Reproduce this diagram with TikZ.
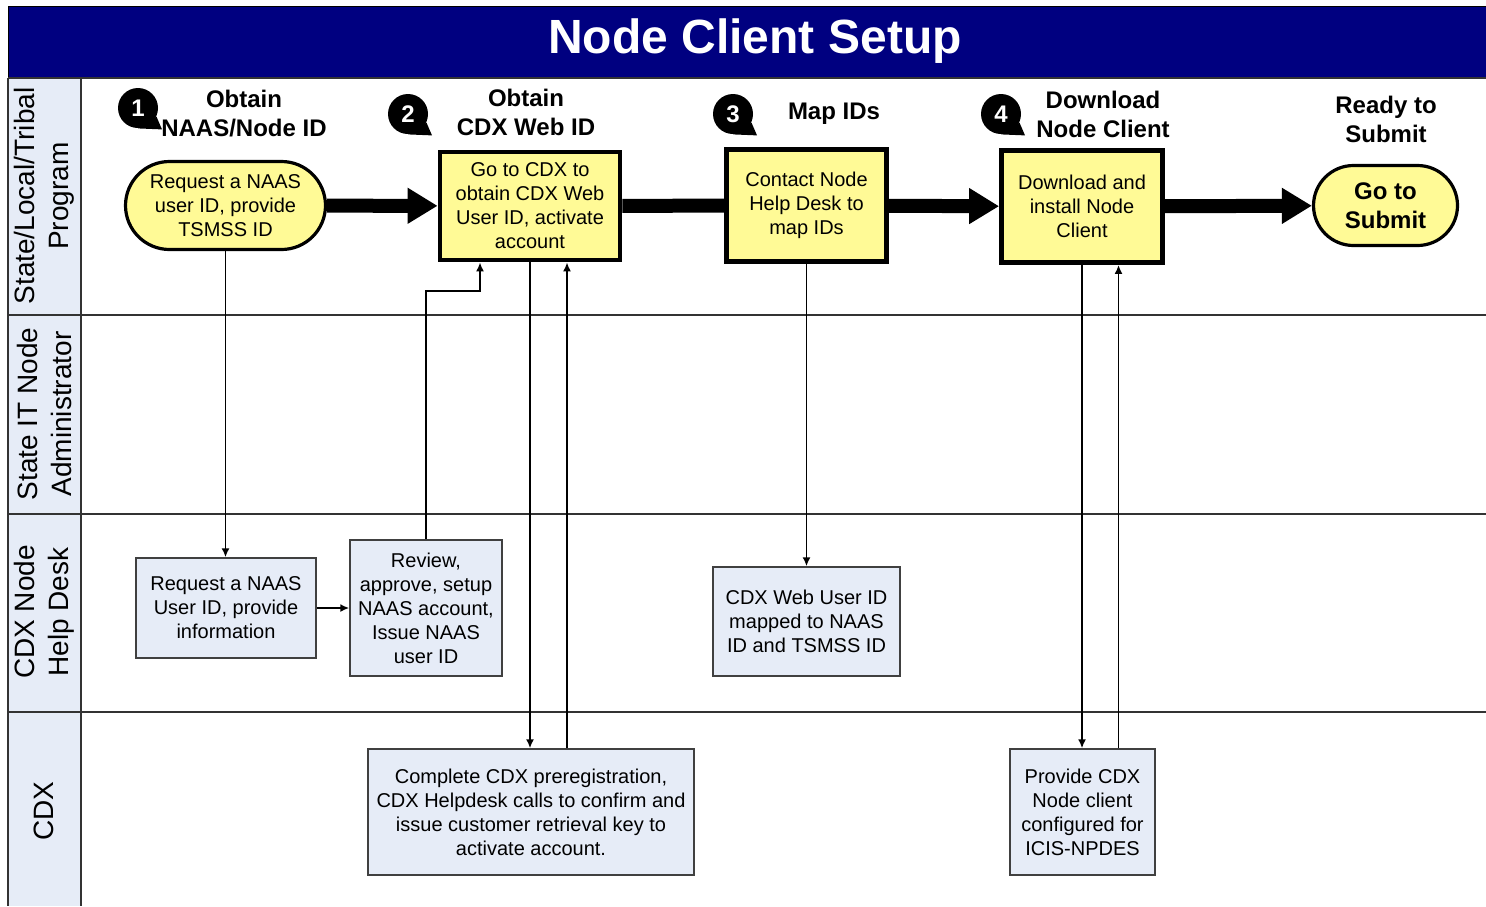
\documentclass[tikz,border=0pt]{standalone}
\usepackage{fontspec}
\setmainfont{Liberation Sans}
\usepackage{tikz}
\usetikzlibrary{
  arrows.meta,
  positioning,
  calc,
  }
\definecolor{navy}{HTML}{000080}
\definecolor{paleyellow}{HTML}{FFFA96}
\definecolor{paleblue}{HTML}{E6ECF7}

\begin{document}
\begin{tikzpicture}[x=0.5pt,y=-0.5pt,
                    every node/.style={align=center, inner sep=0pt},
                    stepbox/.style={draw, line width=2.4pt, fill=paleyellow, font=\fontsize{10}{12}\selectfont},
                    term/.style={draw, line width=1.6pt, fill=paleyellow},
                    task/.style={draw=black!75, line width=0.7pt, fill=paleblue, font=\fontsize{10}{12}\selectfont},
                    head/.style={font=\bfseries\fontsize{12}{14.5}\selectfont},
                    num/.style={circle, fill=black, text=white, minimum size=20pt, font=\bfseries\fontsize{12}{12}\selectfont},
                    lane/.style={rotate=90, font=\fontsize{14}{17}\selectfont},
                    rule/.style={draw=black!80, line width=0.75pt},
                    flow/.style={line width=7pt, -{Triangle[length=15pt,width=17pt]}},
                    link/.style={line width=0.9pt, -{Latex[length=4.5pt,width=4pt]}}]
                \useasboundingbox (0,0) rectangle (1486,906);
                \draw[fill=navy] (8,6) rectangle (1486,78);
                \node[text=white, font=\bfseries\fontsize{24}{28}\selectfont] (title) at (755,41) {Node Client Setup};
                \fill[paleblue] (8,78) rectangle (81,906);
                \draw[rule] (8,78) -- (8,906) (81,78) -- (81,906);
                \foreach \y in {78,315,514,712}
                    \draw[rule] (8,\y) -- (1486,\y);
                \node[lane] (lprog) at (44,196) {State/Local/Tribal\\Program};
                \node[lane] (ladmin) at (44,414) {State IT Node\\Administrator};
                \node[lane] (ldesk) at (44,612) {CDX Node\\Help Desk};
                \node[lane] (lcdx) at (44,811) {CDX};

                \node[num] (k1) at (138,108) {1};
                \node[num] (k2) at (408,114) {2};
                \node[num] (k3) at (733,114) {3};
                \node[num] (k4) at (1001,114) {4};
                \foreach \k in {k1,k2,k3,k4}
                    \fill (\k.-90) -- ++(24,1) -- (\k.-25) -- cycle;
                \node[head] (h1) at (244,114) {Obtain\\NAAS/Node ID};
                \node[head] (h2) at (526,112) {Obtain\\CDX Web ID};
                \node[head] (h3) at (834,114) {Map IDs};
                \node[head] (h4) at (1103,114) {Download\\Node Client};
                \node[head] (h5) at (1386,119) {Ready to\\Submit};

                \node[term, rounded corners=22pt, minimum width=100pt, minimum height=44pt,
                      font=\fontsize{10}{12}\selectfont] (req) at (225.5,205.5) {Request a NAAS\\user ID, provide\\TSMSS ID};
                \node[stepbox, minimum width=90pt, minimum height=54pt] (cdxid) at (530,206) {Go to CDX to\\obtain CDX Web\\User ID, activate\\account};
                \node[stepbox, minimum width=80pt, minimum height=56pt] (mapid) at (806.5,205.5) {Contact Node\\Help Desk to\\map IDs};
                \node[stepbox, minimum width=80.5pt, minimum height=56pt] (dl) at (1082,206.5) {Download and\\install Node\\Client};
                \node[term, rounded corners=20pt, minimum width=72pt, minimum height=40pt,
                      font=\bfseries\fontsize{12}{14.5}\selectfont] (submit) at (1385.5,205.5) {Go to\\Submit};

                \node[task, minimum width=90pt, minimum height=50pt] (hdreq) at (226,608) {Request a NAAS\\User ID, provide\\information};
                \node[task, minimum width=76pt, minimum height=68pt] (hdrev) at (426,608) {Review,\\approve, setup\\NAAS account,\\Issue NAAS\\user ID};
                \node[task, minimum width=93.5pt, minimum height=54.5pt] (hdmap) at (806.5,621.5) {CDX Web User ID\\mapped to NAAS\\ID and TSMSS ID};
                \node[task, minimum width=163pt, minimum height=63pt] (cdxreg) at (531,812) {Complete CDX preregistration,\\CDX Helpdesk calls to confirm and\\issue customer retrieval key to\\activate account.};
                \node[task, minimum width=72.5pt, minimum height=63pt] (cdxnode) at (1082.5,812) {Provide CDX\\Node client\\configured for\\ICIS-NPDES};

                \draw[flow] (req) -- (cdxid);
                \draw[line width=7pt] (cdxid) -- (mapid);
                \draw[flow] (mapid) -- (dl);
                \draw[flow] (dl) -- (submit);

                \draw[link] (req.south) -- (req.south |- hdreq.north);
                \draw[link] (hdreq) -- (hdrev);
                \draw[link] (hdrev.north) -- ++(0,-248) -| ([xshift=-25pt]cdxid.south);
                \draw[link] (cdxid.south) -- (cdxid.south |- cdxreg.north);
                \draw[link] ([xshift=18pt]cdxreg.north) -- ([xshift=18pt]cdxreg.north |- cdxid.south);
                \draw[link] (mapid) -- (hdmap);
                \draw[link] (dl.south) -- (dl.south |- cdxnode.north);
                \draw[link] ([xshift=18pt]cdxnode.north) -- ([xshift=18pt]cdxnode.north |- dl.south);
                \end{tikzpicture}
\end{document}
